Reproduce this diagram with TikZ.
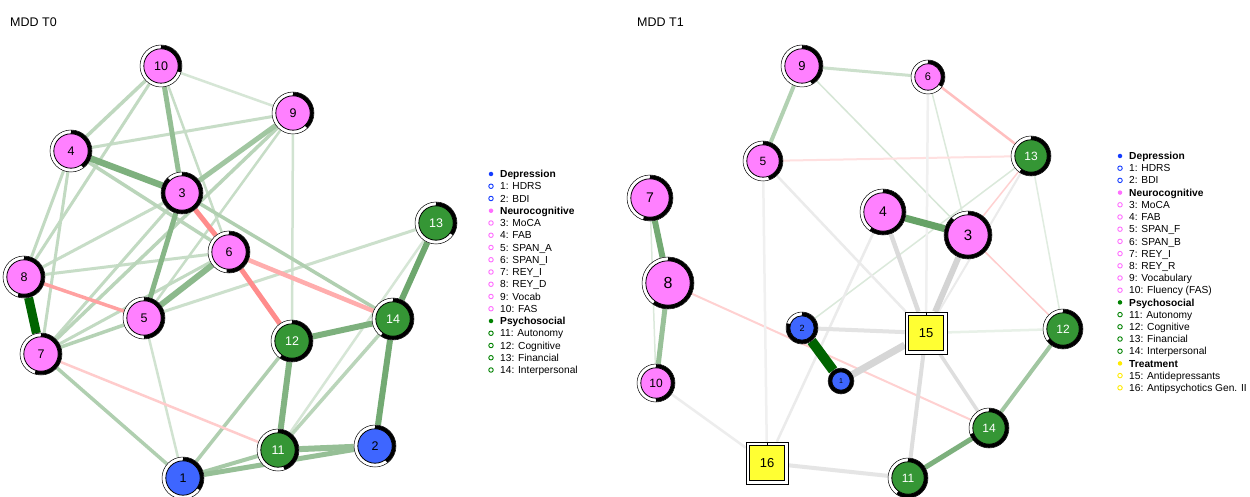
\documentclass[tikz,border=0pt]{standalone}
\usepackage{fontspec}
\setmainfont{Liberation Sans}
\pgfdeclarelayer{bottom}
\pgfdeclarelayer{background}
\pgfsetlayers{bottom,background,main}
\definecolor{pg}{RGB}{0,100,0}
\definecolor{nblue}{RGB}{62,102,255}
\definecolor{npink}{RGB}{255,128,255}
\definecolor{ngreen}{RGB}{53,150,53}
\definecolor{nyellow}{RGB}{255,255,51}
\definecolor{lblue}{RGB}{20,60,255}
\definecolor{lpink}{RGB}{255,110,255}
\definecolor{lgreen}{RGB}{0,130,0}
\definecolor{lyellow}{RGB}{255,235,0}
\newcommand\lgfont{\fontsize{10.2}{12}\selectfont}
\tikzset{
  lgdotf/.style={circle, fill=#1, minimum size=4.5pt, inner sep=0pt},
  lgdoto/.style={circle, draw=#1, line width=0.9pt, minimum size=4.5pt, inner sep=0pt},
  lgtxt/.style={anchor=base west, inner sep=0pt, font=\lgfont},
  ttl/.style={anchor=base west, inner sep=0pt, font=\fontsize{12.5}{14}\selectfont},
  ring/.style={circle, draw=black, line width=0.5pt, fill=white, inner sep=0pt},
  core/.style={circle, draw=black, line width=0.8pt, inner sep=0pt},
}
% name, position, R, fraction, fill, label, label colour, font size
\newcommand\PN[8]{%
  \node[ring, minimum size=#3*2pt] (#1) at (#2) {};
  \draw[line width=3.6pt] (#2) ++(-90:#3-2) arc[start angle=-90, end angle=-90+360*#4, radius=#3-2];
  \node[core, fill=#5, minimum size=#3*2pt-7.6pt, text=#7, font=\fontsize{#8}{#8}\selectfont] (#1i) at (#2) {#6};
}
% name, position, label
\newcommand\SQ[3]{%
  \node[draw=black, line width=0.6pt, fill=white, minimum size=42pt, inner sep=0pt] (#1) at (#2) {};
  \node[draw=black, line width=0.8pt, fill=nyellow, minimum size=35pt, inner sep=0pt, font=\fontsize{13}{13}\selectfont] (#1i) at (#2) {#3};
  \draw[line width=0.8pt] (#1.north) -- (#1i.north);
}
\newcommand\E[4]{\draw[line width=#3pt, draw=#4] (#1) -- (#2);}
\newcommand\LGG[5]{\node[lgdotf=#4] (#1) at (#2,#3) {}; \node[lgtxt, font=\lgfont\bfseries] (#1t) at (#2+9,#3+3.6) {#5};}
\newcommand\LGI[5]{\node[lgdoto=#4] (#1) at (#2,#3) {}; \node[lgtxt] (#1t) at (#2+9,#3+3.6) {#5};}
\begin{document}
\begin{tikzpicture}[x=1pt,y=-1pt]
\useasboundingbox (0,0) rectangle (1250,497);
\begin{pgfonlayer}{bottom}
\fill[white] (0,0) rectangle (1250,497);
\end{pgfonlayer}

\node[ttl] (t0) at (10,27) {MDD T0};
\node[ttl] (t1) at (637,27) {MDD T1};

% ---------- left network nodes ----------
\PN{a10}{161,66}{21}{0.30}{npink}{10}{black}{12.5}
\PN{a9}{293,113}{21}{0.38}{npink}{9}{black}{12.5}
\PN{a4}{71,151}{21}{0.40}{npink}{4}{black}{12.5}
\PN{a3}{182,193}{21}{0.88}{npink}{3}{black}{12.5}
\PN{a6}{229,252}{21}{0.52}{npink}{6}{black}{12.5}
\PN{a8}{24,277}{21}{0.55}{npink}{8}{black}{12.5}
\PN{a5}{144,318}{21}{0.50}{npink}{5}{black}{12.5}
\PN{a7}{41,354}{21}{0.55}{npink}{7}{black}{12.5}
\PN{a12}{292,341}{21}{0.60}{ngreen}{12}{white}{12.5}
\PN{a13}{436,223}{21}{0.35}{ngreen}{13}{white}{12.5}
\PN{a14}{393,319}{21}{0.60}{ngreen}{14}{white}{12.5}
\PN{a11}{278,450}{21}{0.45}{ngreen}{11}{white}{12.5}
\PN{a2}{375,446}{21}{0.40}{nblue}{2}{black}{12.5}
\PN{a1}{183,478}{21}{0.35}{nblue}{1}{black}{12.5}

% ---------- right network nodes ----------
\PN{b9}{802,66}{21}{0.42}{npink}{9}{black}{13}
\PN{b6}{928,77}{17}{0.35}{npink}{6}{black}{11}
\PN{b5}{763,161}{20}{0.45}{npink}{5}{black}{12}
\PN{b7}{650,198}{23}{0.55}{npink}{7}{black}{14}
\PN{b8}{668,283}{26}{0.60}{npink}{8}{black}{16}
\PN{b10}{656,383}{19}{0.50}{npink}{10}{black}{12}
\PN{b4}{883,212}{23}{0.60}{npink}{4}{black}{14}
\PN{b3}{968,235}{24}{0.88}{npink}{3}{black}{15}
\PN{b13}{1031,156}{20}{0.60}{ngreen}{13}{white}{12}
\PN{b2}{802,328}{16}{0.80}{nblue}{2}{black}{9}
\PN{b1}{841,381}{13}{1.00}{nblue}{1}{black}{7}
\PN{b12}{1063,329}{20}{0.65}{ngreen}{12}{white}{12}
\PN{b14}{989,428}{20}{0.70}{ngreen}{14}{white}{12}
\PN{b11}{908,478}{20}{0.60}{ngreen}{11}{white}{12}
\SQ{b15}{926,333}{15}
\SQ{b16}{767,463}{16}

% ---------- edges ----------
\begin{pgfonlayer}{background}
% left
\E{a10}{a9}{2.5}{pg!16}
\E{a11}{a13}{2.5}{pg!16}
\E{a1}{a5}{2.5}{pg!18}
\E{a12}{a9}{2.5}{pg!18}
\E{a5}{a13}{3}{pg!20}
\E{a10}{a6}{2.5}{pg!22}
\E{a9}{a5}{2.5}{pg!22}
\E{a9}{a4}{3}{pg!22}
\E{a3}{a8}{3}{pg!22}
\E{a8}{a6}{3}{pg!22}
\E{a4}{a8}{3}{pg!24}
\E{a4}{a7}{3}{pg!24}
\E{a10}{a8}{3}{pg!24}
\E{a3}{a7}{3}{pg!24}
\E{a7}{a6}{3}{pg!24}
\E{a10}{a4}{3.5}{pg!25}
\E{a4}{a6}{3.5}{pg!27}
\E{a9}{a7}{3.5}{pg!27}
\E{a11}{a14}{3.5}{pg!27}
\E{a7}{a5}{3.5}{pg!29}
\E{a1}{a12}{3.5}{pg!31}
\E{a1}{a7}{3.5}{pg!31}
\E{a3}{a14}{3.5}{pg!31}
\E{a1}{a11}{4}{pg!35}
\E{a7}{a11}{2.5}{red!20}
\E{a6}{a14}{4.5}{red!32}
\E{a8}{a5}{3.5}{red!37}
\E{a9}{a3}{5}{pg!37}
\E{a1}{a2}{5}{pg!41}
\E{a11}{a2}{6}{pg!41}
\E{a10}{a3}{5}{pg!42}
\E{a3}{a6}{5}{red!45}
\E{a6}{a12}{5}{red!45}
\E{a6}{a5}{6}{pg!45}
\E{a3}{a5}{5}{pg!47}
\E{a12}{a11}{6}{pg!49}
\E{a12}{a14}{6}{pg!51}
\E{a4}{a3}{6.5}{pg!51}
\E{a14}{a2}{6}{pg!55}
\E{a14}{a13}{6}{pg!57}
\E{a8}{a7}{9}{pg}
% right
\E{b7}{b10}{1.5}{pg!14}
\E{b9}{b3}{1.5}{pg!16}
\E{b6}{b3}{1.5}{pg!14}
\E{b13}{b12}{1.5}{pg!12}
\E{b2}{b13}{1.5}{pg!14}
\E{b15}{b12}{2.5}{pg!9}
\E{b5}{b13}{2}{red!12}
\E{b6}{b13}{2.5}{red!25}
\E{b8}{b14}{2}{red!18}
\E{b3}{b12}{1.5}{red!20}
\E{b3}{b13}{1.5}{red!18}
\E{b13}{b15}{2}{black!8}
\E{b6}{b15}{2.5}{black!6}
\E{b5}{b16}{2.5}{black!6}
\E{b5}{b15}{2.5}{black!8}
\E{b4}{b16}{2.5}{black!8}
\E{b16}{b10}{2.5}{black!7}
\E{b16}{b11}{4}{black!10}
\E{b2}{b15}{4}{black!11}
\E{b15}{b14}{3.5}{black!13}
\E{b15}{b11}{4}{black!13}
\E{b4}{b15}{4.5}{black!14}
\E{b3}{b15}{6}{black!17}
\E{b1}{b15}{7}{black!16}
\E{b9}{b6}{3}{pg!20}
\E{b9}{b5}{4}{pg!30}
\E{b12}{b14}{4}{pg!37}
\E{b8}{b10}{5}{pg!40}
\E{b14}{b11}{5}{pg!51}
\E{b7}{b8}{6}{pg!55}
\E{b4}{b3}{7}{pg!60}
\E{b2}{b1}{10}{pg}
\end{pgfonlayer}

% ---------- left legend ----------
\LGG{la0}{491}{174}{lblue}{Depression}
\LGI{la1}{491}{186.25}{lblue}{1: HDRS}
\LGI{la2}{491}{198.5}{lblue}{2: BDI}
\LGG{la3}{491}{210.75}{lpink}{Neurocognitive}
\LGI{la4}{491}{223}{lpink}{3: MoCA}
\LGI{la5}{491}{235.25}{lpink}{4: FAB}
\LGI{la6}{491}{247.5}{lpink}{5: SPAN\_A}
\LGI{la7}{491}{259.75}{lpink}{6: SPAN\_I}
\LGI{la8}{491}{272}{lpink}{7: REY\_I}
\LGI{la9}{491}{284.25}{lpink}{8: REY\_D}
\LGI{la10}{491}{296.5}{lpink}{9: Vocab}
\LGI{la11}{491}{308.75}{lpink}{10: FAS}
\LGG{la12}{491}{321}{lgreen}{Psychosocial}
\LGI{la13}{491}{333.25}{lgreen}{11: Autonomy}
\LGI{la14}{491}{345.5}{lgreen}{12: Cognitive}
\LGI{la15}{491}{357.75}{lgreen}{13: Financial}
\LGI{la16}{491}{370}{lgreen}{14: Interpersonal}

% ---------- right legend ----------
\LGG{lb0}{1120}{156}{lblue}{Depression}
\LGI{lb1}{1120}{168.2}{lblue}{1: HDRS}
\LGI{lb2}{1120}{180.4}{lblue}{2: BDI}
\LGG{lb3}{1120}{192.6}{lpink}{Neurocognitive}
\LGI{lb4}{1120}{204.8}{lpink}{3: MoCA}
\LGI{lb5}{1120}{217}{lpink}{4: FAB}
\LGI{lb6}{1120}{229.2}{lpink}{5: SPAN\_F}
\LGI{lb7}{1120}{241.4}{lpink}{6: SPAN\_B}
\LGI{lb8}{1120}{253.6}{lpink}{7: REY\_I}
\LGI{lb9}{1120}{265.8}{lpink}{8: REY\_R}
\LGI{lb10}{1120}{278}{lpink}{9: Vocabulary}
\LGI{lb11}{1120}{290.2}{lpink}{10: Fluency (FAS)}
\LGG{lb12}{1120}{302.4}{lgreen}{Psychosocial}
\LGI{lb13}{1120}{314.6}{lgreen}{11: Autonomy}
\LGI{lb14}{1120}{326.8}{lgreen}{12: Cognitive}
\LGI{lb15}{1120}{339}{lgreen}{13: Financial}
\LGI{lb16}{1120}{351.2}{lgreen}{14: Interpersonal}
\LGG{lb17}{1120}{363.4}{lyellow}{Treatment}
\LGI{lb18}{1120}{375.6}{lyellow}{15: Antidepressants}
\LGI{lb19}{1120}{387.8}{lyellow}{16: Antipsychotics Gen. II}
\end{tikzpicture}
\end{document}
